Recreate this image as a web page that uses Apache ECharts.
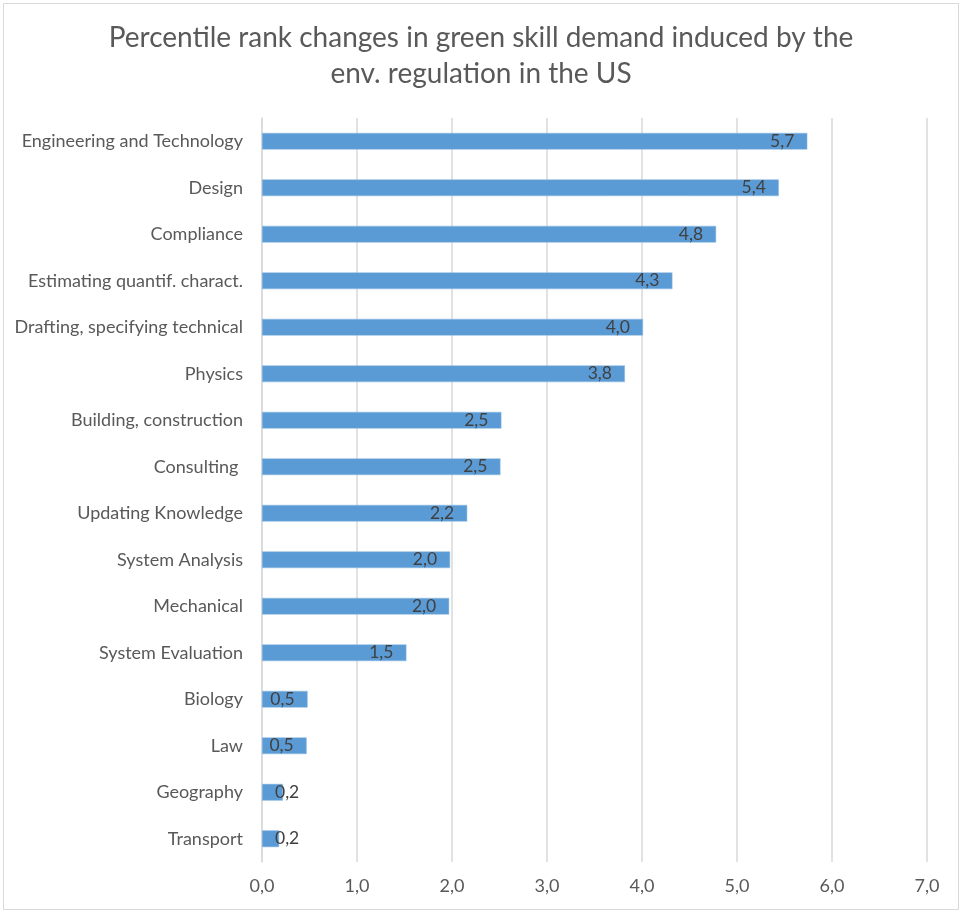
<!DOCTYPE html>
<html>
<head>
<meta charset="utf-8">
<script src="https://cdn.jsdelivr.net/npm/echarts@6/dist/echarts.min.js"></script>
<style>
  html, body { margin: 0; padding: 0; background: #fff; }
  #chart { width: 962px; height: 913px; }
</style>
</head>
<body>
<div id="chart"></div>
<script>
// skills, top to bottom as in the picture
const skills = [
  "Engineering and Technology",
  "Design",
  "Compliance",
  "Estimating quantif. charact.",
  "Drafting, specifying technical",
  "Physics",
  "Building, construction",
  "Consulting ",
  "Updating Knowledge",
  "System Analysis",
  "Mechanical",
  "System Evaluation",
  "Biology",
  "Law",
  "Geography",
  "Transport"
];
const rankChange = [5.74, 5.44, 4.78, 4.32, 4.01, 3.82, 2.52, 2.51, 2.16, 1.98, 1.97, 1.52, 0.48, 0.47, 0.22, 0.18];
const titleLines = [
  "Percentile rank changes in green skill demand induced by the",
  "env. regulation in the US"
];

const fmt = (v) => v.toFixed(1).replace(".", ",");
const font = "Lato, 'Open Sans', sans-serif";

const chart = echarts.init(document.getElementById("chart"));

const option = {
  backgroundColor: "#fff",
  animation: false,
  title: {
    text: titleLines.join("\n"),
    left: "center",
    top: 15,
    textStyle: {
      fontFamily: font,
      fontSize: 28,
      fontWeight: "normal",
      color: "#595959",
      lineHeight: 36
    }
  },
  graphic: [{
    type: "rect",
    shape: { x: 3.5, y: 3.5, width: 955, height: 906 },
    style: { fill: "none", stroke: "#d9d9d9", lineWidth: 1 },
    silent: true
  }],
  grid: { left: 262, right: 35, top: 118, bottom: 51 },
  xAxis: {
    type: "value",
    min: 0,
    max: 7,
    interval: 1,
    axisLine: { show: false },
    axisTick: { show: false },
    splitLine: { lineStyle: { color: "#d9d9d9", width: 1.5 } },
    axisLabel: {
      formatter: (v) => fmt(v),
      color: "#595959",
      fontFamily: font,
      fontSize: 18,
      margin: 15
    }
  },
  yAxis: {
    type: "category",
    inverse: true,
    data: skills,
    axisLine: { lineStyle: { color: "#d9d9d9", width: 1.5 } },
    axisTick: { show: false },
    axisLabel: {
      color: "#595959",
      fontFamily: font,
      fontSize: 18,
      margin: 19
    }
  },
  series: [{
    type: "bar",
    barWidth: "36%",
    itemStyle: { color: "#5b9bd5", borderColor: "#8fbbe3", borderWidth: 0.5 },
    label: {
      show: true,
      position: "insideRight",
      distance: 13,
      color: "#404040",
      fontFamily: font,
      fontSize: 17.5,
      formatter: (p) => fmt(p.value)
    },
    data: rankChange.map((v) => ({
      value: v,
      label: v < 0.4 ? { position: "insideLeft", distance: 13 } : undefined
    }))
  }]
};

chart.setOption(option);
</script>
</body>
</html>
